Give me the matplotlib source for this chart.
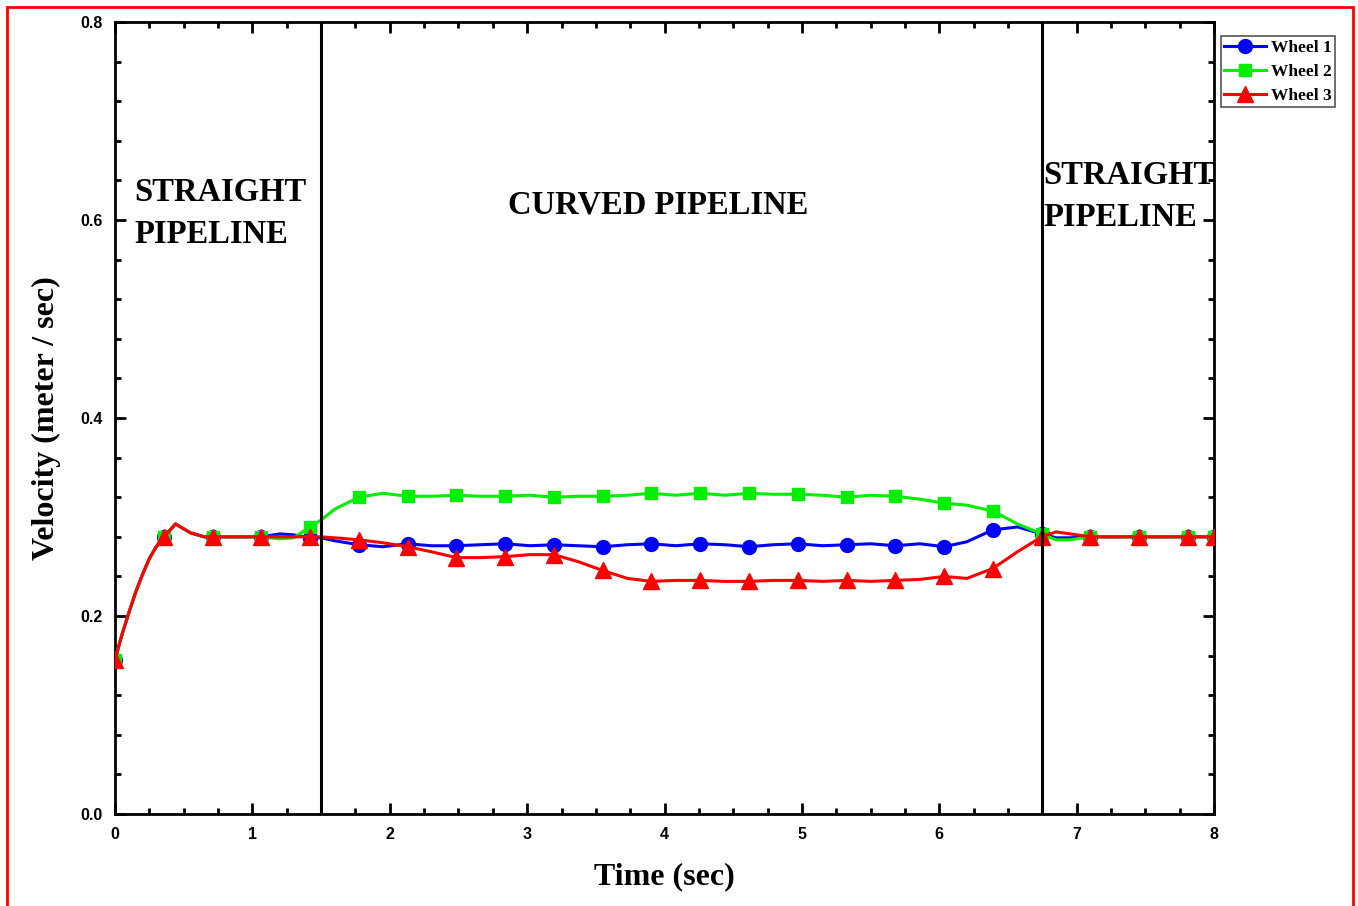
import numpy as np
import matplotlib
matplotlib.use("Agg")
import matplotlib.pyplot as plt
from matplotlib.patches import Rectangle
from matplotlib.ticker import MultipleLocator

# time points of the drawn curves (sec)
t_line = [0, 0.05, 0.1, 0.15, 0.2, 0.25, 0.3, 0.357, 0.44, 0.55, 0.65, 0.71, 0.9,
          1.065, 1.2, 1.3, 1.42, 1.5, 1.6, 1.775, 1.95, 2.13, 2.3, 2.485, 2.66,
          2.84, 3.02, 3.195, 3.37, 3.55, 3.73, 3.905, 4.08, 4.26, 4.44, 4.615,
          4.79, 4.97, 5.15, 5.325, 5.5, 5.68, 5.86, 6.035, 6.2, 6.39, 6.57,
          6.745, 6.85, 6.95, 7.1, 7.455, 7.81, 8.0]

# times where a symbol is drawn
t_marker = [0, 0.357, 0.71, 1.065, 1.42, 1.775, 2.13, 2.485, 2.84, 3.195, 3.55,
            3.905, 4.26, 4.615, 4.97, 5.325, 5.68, 6.035, 6.39, 6.745, 7.1,
            7.455, 7.81, 8.0]

wheel1 = [0.156, 0.181, 0.203, 0.224, 0.242, 0.258, 0.27, 0.28, 0.293, 0.284,
          0.28, 0.28, 0.28, 0.28, 0.283, 0.282, 0.279, 0.279, 0.276, 0.272,
          0.270, 0.273, 0.271, 0.271, 0.272, 0.273, 0.271, 0.272, 0.271, 0.270,
          0.272, 0.273, 0.271, 0.273, 0.272, 0.270, 0.272, 0.273, 0.271, 0.272,
          0.273, 0.271, 0.273, 0.270, 0.275, 0.287, 0.290, 0.283, 0.279, 0.279,
          0.28, 0.28, 0.28, 0.28]

wheel2 = [0.156, 0.181, 0.203, 0.224, 0.242, 0.258, 0.27, 0.28, 0.293, 0.284,
          0.28, 0.28, 0.28, 0.28, 0.278, 0.279, 0.290, 0.297, 0.308, 0.320,
          0.324, 0.321, 0.321, 0.322, 0.321, 0.321, 0.322, 0.320, 0.321, 0.321,
          0.322, 0.324, 0.322, 0.324, 0.322, 0.324, 0.323, 0.323, 0.322, 0.320,
          0.322, 0.321, 0.318, 0.314, 0.312, 0.306, 0.293, 0.283, 0.277, 0.277,
          0.28, 0.28, 0.28, 0.28]

wheel3 = [0.156, 0.181, 0.203, 0.224, 0.242, 0.258, 0.27, 0.28, 0.293, 0.284,
          0.28, 0.28, 0.28, 0.28, 0.28, 0.28, 0.28, 0.28, 0.279, 0.277, 0.274,
          0.270, 0.265, 0.259, 0.259, 0.260, 0.262, 0.262, 0.255, 0.246, 0.238,
          0.235, 0.236, 0.236, 0.235, 0.235, 0.236, 0.236, 0.235, 0.236, 0.235,
          0.236, 0.237, 0.240, 0.238, 0.248, 0.265, 0.28, 0.285, 0.283, 0.28,
          0.28, 0.28, 0.28]

labels = ["Wheel 1", "Wheel 2", "Wheel 3"]
colors = ["#0000ff", "#00ee00", "#ff0000"]
markers = ["o", "s", "^"]
msizes = [10, 9, 11]

serif = "Liberation Serif"
sans = "Liberation Sans"

fig = plt.figure(figsize=(13.58, 9.06), dpi=100)
ax = fig.add_axes([0.0847, 0.1015, 0.8093, 0.8742])

mark_idx = [i for i, t in enumerate(t_line) if t in t_marker]
for y, lab, c, m, ms in zip([wheel1, wheel2, wheel3], labels, colors, markers, msizes):
    ax.plot(t_line, y, color=c, lw=2.2, marker=m, ms=ms, markevery=mark_idx,
            label=lab, zorder=3)

# pipeline section boundaries
for xb in [1.5, 6.75]:
    ax.axvline(xb, color="black", lw=2.2, zorder=4)

ax.set_xlim(0, 8)
ax.set_ylim(0, 0.8)
ax.xaxis.set_major_locator(MultipleLocator(1))
ax.xaxis.set_minor_locator(MultipleLocator(0.25))
ax.yaxis.set_major_locator(MultipleLocator(0.2))
ax.yaxis.set_minor_locator(MultipleLocator(0.04))
ax.tick_params(which="both", direction="in", top=True, right=True, width=2)
ax.tick_params(which="major", length=8, pad=9)
ax.tick_params(which="minor", length=4)
for s in ax.spines.values():
    s.set_linewidth(2)
for lbl in ax.get_xticklabels() + ax.get_yticklabels():
    lbl.set_fontfamily(sans)
    lbl.set_fontweight("bold")
    lbl.set_fontsize(11.5)

ax.set_xlabel("Time (sec)", fontfamily=serif, fontweight="bold", fontsize=23, labelpad=15)
ax.set_ylabel("Velocity (meter / sec)", fontfamily=serif, fontweight="bold", fontsize=23, labelpad=14)

tkw = dict(fontfamily=serif, fontweight="bold", fontsize=23.5, zorder=5)
ax.text(0.138, 0.619, "STRAIGHT", **tkw)
ax.text(0.138, 0.577, "PIPELINE", **tkw)
ax.text(2.86, 0.607, "CURVED PIPELINE", **tkw)
ax.text(6.76, 0.636, "STRAIGHT", **tkw)
ax.text(6.76, 0.594, "PIPELINE", **tkw)

leg = ax.legend(loc="upper left", bbox_to_anchor=(0.899, 0.960),
                bbox_transform=fig.transFigure, borderaxespad=0, fancybox=False,
                framealpha=1, edgecolor="#555555", handlelength=2.4,
                handletextpad=0.3, labelspacing=0.45, borderpad=0.2,
                prop={"family": serif, "weight": "bold", "size": 12.5})
leg.get_frame().set_linewidth(1.2)

# red frame around the figure
fig.patches.append(Rectangle((7 / 1358, -0.02), 1346 / 1358, 1 - 7 / 906 + 0.02,
                             transform=fig.transFigure, fill=False,
                             edgecolor="red", lw=2, zorder=10))

fig.savefig("out.png", dpi=100)
